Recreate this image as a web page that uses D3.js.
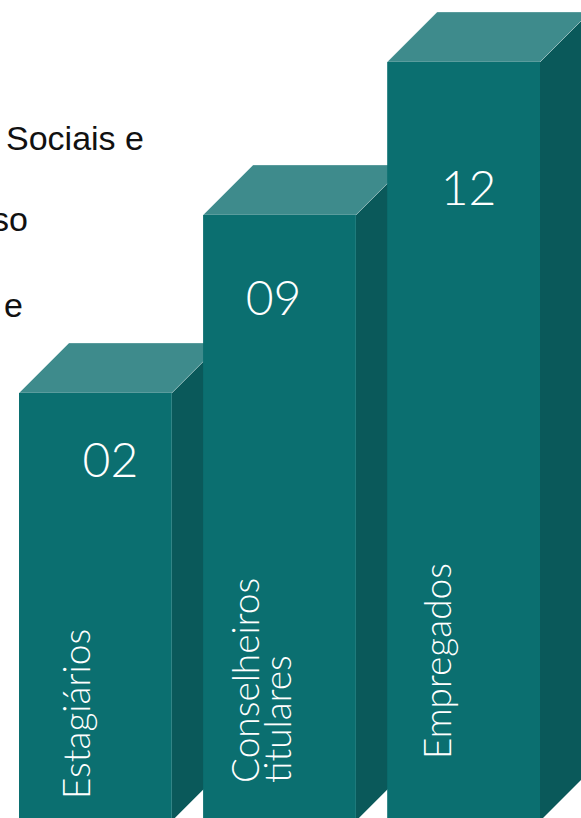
<!doctype html>
<html>
<head>
<meta charset="utf-8">
<title>Quadro de pessoal</title>
<script src="https://d3js.org/d3.v7.min.js"></script>
<style>
  body { margin: 0; background: #fff; }
  svg { display: block; }
  .intro { font-family: "Liberation Sans", Arial, sans-serif; font-size: 34px; fill: #111; }
  .num { font-family: Lato, "Open Sans", sans-serif; font-weight: 300; font-size: 48px; fill: #fff; }
  .name { font-family: Lato, "Open Sans", sans-serif; font-weight: 300; font-size: 37px; fill: #fff; }
</style>
</head>
<body>
<div id="chart"></div>
<script>
// data
const categories = ["Estagiários", "Conselheiros titulares", "Empregados"];
const values = [2, 9, 12];
const valueLabels = ["02", "09", "12"];
const nameLines = [["Estagiários"], ["Conselheiros", "titulares"], ["Empregados"]];
// cut-off slide text on the left
const introLines = ["Sociais e", "so", "e"];

var width = 581, height = 818;
var base = 821, depth = 50;

var svg = d3.select("#chart").append("svg")
  .attr("width", width)
  .attr("height", height);

var x = d3.scaleBand()
  .domain(categories)
  .range([19, 540])
  .paddingInner(0.17)
  .paddingOuter(0);

// heights in the original graphic are stepped, not proportional
var y = d3.scaleLinear()
  .domain([0, 2, 9, 12])
  .range([base, 393, 215, 62]);

// left text
var introPos = [{x: 6, y: 150, a: "start"}, {x: 28, y: 231, a: "end"}, {x: 4, y: 317, a: "start"}];
svg.selectAll(".intro")
  .data(introLines)
  .enter().append("text")
  .attr("class", "intro")
  .attr("x", (d, i) => introPos[i].x)
  .attr("y", (d, i) => introPos[i].y)
  .attr("text-anchor", (d, i) => introPos[i].a)
  .text(d => d);

var bars = svg.selectAll(".bar")
  .data(categories)
  .enter().append("g")
  .attr("class", "bar");

var bw = x.bandwidth();

// side face
bars.append("path")
  .attr("fill", "#0a595a")
  .attr("d", function(d, i) {
    var x1 = x(d) + bw, t = y(values[i]);
    return "M" + x1 + "," + t + "L" + (x1 + depth) + "," + (t - depth) +
      "L" + (x1 + depth) + "," + (base - depth) + "L" + x1 + "," + base + "Z";
  });

// top face
bars.append("path")
  .attr("fill", "#3e8b8c")
  .attr("stroke", "rgba(255,255,255,0.3)")
  .attr("stroke-width", 1)
  .attr("d", function(d, i) {
    var x0 = x(d), x1 = x0 + bw, t = y(values[i]);
    return "M" + x0 + "," + t + "L" + (x0 + depth) + "," + (t - depth) +
      "L" + (x1 + depth) + "," + (t - depth) + "L" + x1 + "," + t + "Z";
  });

// front face
bars.append("rect")
  .attr("fill", "#0b6f70")
  .attr("x", d => x(d))
  .attr("y", (d, i) => y(values[i]))
  .attr("width", bw)
  .attr("height", (d, i) => base - y(values[i]));

// value numbers
var numDx = [15, -6, 5], numDy = [84, 100, 143];
bars.append("text")
  .attr("class", "num")
  .attr("text-anchor", "middle")
  .attr("x", (d, i) => x(d) + bw / 2 + numDx[i])
  .attr("y", (d, i) => y(values[i]) + numDy[i])
  .text((d, i) => valueLabels[i]);

// rotated names
var nameDx = [71, 56, 64], nameDy = [22, 38, 62];
var names = bars.append("text")
  .attr("class", "name")
  .attr("transform", (d, i) => "translate(" + (x(d) + nameDx[i]) + "," + (base - nameDy[i]) + ") rotate(-90)");

names.selectAll("tspan")
  .data((d, i) => nameLines[i])
  .enter().append("tspan")
  .attr("x", 0)
  .attr("dy", (d, j) => j == 0 ? 0 : 32)
  .text(d => d);
</script>
</body>
</html>
